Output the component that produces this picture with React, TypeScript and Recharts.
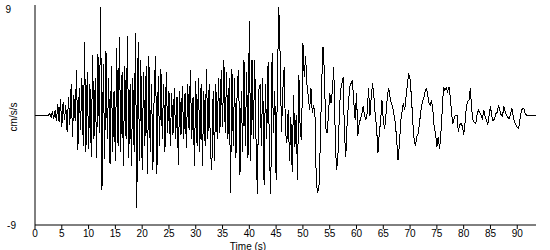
import { Line, LineChart, XAxis, YAxis } from "recharts";

// sample interval of the digitised record (seconds)
const SAMPLE_STEP = 0.25;

// acceleration in cm/s/s, one row per second (4 samples each)
const acceleration: number[] = [
  0, 0, 0, 0,
  0, 0, 0, 0,
  0, 0, 0, 0.1,
  -0.2, 0.3, -0.3, 0.4,
  -0.5, 0.9, -0.6, 1.3,
  -1.0, 1.1, -0.4, 0.8,
  -1.4, 1.5, -0.8, 2.5,
  -1.8, 1.6, -0.5, 3.7,
  -2.9, 2.2, -1.2, 3.0,
  -2.5, 6.0, -3.0, 3.5,
  -2.8, 2.5, -3.4, 4.9,
  -2.0, 3.0, -3.5, 5.0,
  -1.5, 8.8, -6.1, 4.2,
  -3.6, 5.2, -2.0, 3.0,
  -4.0, 4.0, -3.0, 2.0,
  -3.8, 5.5, -2.5, 6.4,
  -3.0, 3.5, -4.2, 4.0,
  -2.0, 6.5, -3.5, 2.5,
  -4.2, 3.0, -3.0, 6.7,
  -7.6, 6.0, -3.8, 4.5,
  -4.5, 3.5, -2.5, 4.0,
  -4.8, 4.8, -3.0, 2.5,
  -4.5, 2.0, 4.8, -4.8,
  3.2, -2.5, 3.8, -2.0,
  2.5, -3.0, 3.5, -1.5,
  2.0, -2.5, 1.8, -1.6,
  2.2, -2.0, 1.5, -4.1,
  2.0, -1.6, 2.4, -2.0,
  1.8, -2.7, 2.5, -1.2,
  3.7, -2.0, 1.5, -4.2,
  2.8, -2.5, 3.0, -3.0,
  2.5, -4.2, 2.0, -2.5,
  3.8, -2.0, 2.5, -3.0,
  -4.5, 2.0, -3.8, 2.5,
  -2.0, 3.0, -1.5, 3.7,
  -1.0, 4.5, -1.5, 3.5,
  -2.0, 3.0, -6.4, 3.8,
  -2.5, 3.0, -3.5, 2.5,
  3.7, -4.9, 2.0, -3.0,
  4.5, -2.5, 3.5, -3.5,
  7.7, -3.8, 4.5, -2.0,
  4.5, -2.0, -6.5, 2.0,
  2.5, -2.5, 3.0, -5.7,
  2.5, -2.0, 4.3, -3.0,
  -6.5, 5.1, -1.5, 2.0,
  -5.3, 3.0, 8.8, 4.8,
  -1.4, 2.0, 3.9, -1.4,
  -2.3, 0.4, -3.8, -0.2,
  -4.7, 1.6, -2.6, 0.0,
  -5.3, 3.3, -1.5, -2.0,
  5.9, 3.1, 4.8, 2.5,
  1.5, 0.4, 2.2, 0.2,
  0.8, 0.0, -5.5, -6.4,
  -5.8, -2.3, 2.6, 5.6,
  3.6, -1.0, -1.5, -0.1,
  1.8, 1.0, 2.0, 3.9,
  -1.0, -4.5, -3.7, -0.7,
  2.0, 2.5, 3.1, -1.5,
  -3.4, -0.7, 1.0, 2.3,
  2.6, 2.8, 1.0, -0.4,
  1.8, -1.7, -0.7, -0.3,
  0.1, 0.7, 0.0, -0.4,
  0.2, 2.2, -0.1, 1.5,
  2.6, 1.5, 0.0, -1.0,
  -3.1, -1.5, -0.5, 1.2,
  -0.4, -1.1, 0.0, 1.5,
  2.2, 1.5, 0.95, 0.7,
  0.0, -0.7, -2.0, -3.7,
  -2.5, -0.5, 0.3, 0.95,
  0.4, 1.5, 2.5, 3.4,
  2.9, 1.5, -0.5, -2.0,
  -2.5, -1.8, -1.5, -0.7,
  0.3, 1.0, 1.3, 1.8,
  2.2, 1.8, 1.0, 0.8,
  1.2, 0.4, -1.0, -1.5,
  -2.6, -1.8, -2.8, -1.5,
  0.4, 2.3, 2.0, 2.2,
  1.9, 2.3, 1.5, 0.1,
  -0.7, -0.2, 0.0, 0.0,
  -1.4, -0.8, -0.7, -0.9,
  -1.6, -0.7, 0.7, 1.1,
  1.2, 2.2, 0.4, -0.4,
  -0.6, -0.7, 0.0, 0.4,
  0.2, 0.0, -0.3, 0.4,
  -0.1, -0.4, -0.8, 0.0,
  0.7, -0.1, -0.5, -0.3,
  0.1, 0.2, 0.8, 0.4,
  0.0, -0.1, 0.7, 0.3,
  0.0, -0.2, -0.3, 0.1,
  0.55, -0.1, -0.6, -0.8,
  -1.0, -1.1, -0.4, 0.3,
  0.55, 0.5, 0.1, 0.0,
  0, 0, 0, 0,
  0, 0, 0,
];

const timeTicks = [0, 5, 10, 15, 20, 25, 30, 35, 40, 45, 50, 55, 60, 65, 70, 75, 80, 85, 90];
const accelTicks = [-9, 9];

const data = acceleration.map((a, i) => ({ t: i * SAMPLE_STEP, a }));

const font = '"Liberation Sans", Arial, sans-serif';

const YTick = ({ y, payload }: any) => (
  <text
    x={payload.value > 0 ? 11 : 16}
    y={y}
    textAnchor="end"
    dominantBaseline="central"
    fontFamily={font}
    fontSize={10}
    fill="#000"
  >
    {payload.value}
  </text>
);

const YLabel = () => (
  <text
    x={13}
    y={117}
    transform="rotate(-90 13 117)"
    textAnchor="middle"
    dominantBaseline="central"
    fontFamily={font}
    fontSize={10}
    fill="#000"
  >
    cm/s/s
  </text>
);

const XLabel = () => (
  <text
    x={248}
    y={246}
    textAnchor="middle"
    dominantBaseline="central"
    fontFamily={font}
    fontSize={10}
    fill="#000"
  >
    Time (s)
  </text>
);

export default function App() {
  return (
    <div style={{ position: "absolute", left: 0, top: 0, background: "#fff" }}>
      <LineChart width={550} height={250} data={data} margin={{ top: 5, right: 14, bottom: 0, left: 0 }}>
        <XAxis
          dataKey="t"
          type="number"
          domain={[0, 93.5]}
          ticks={timeTicks}
          interval={0}
          height={25}
          tickSize={4}
          tickMargin={1}
          axisLine={{ stroke: "#000" }}
          tickLine={{ stroke: "#000" }}
          tick={{ fill: "#000", fontFamily: font, fontSize: 10 }}
          label={<XLabel />}
        />
        <YAxis
          type="number"
          domain={[-9, 9]}
          ticks={accelTicks}
          width={35}
          axisLine={{ stroke: "#000" }}
          tickLine={false}
          tick={<YTick />}
          label={<YLabel />}
        />
        <Line
          type="linear"
          dataKey="a"
          stroke="#000"
          strokeWidth={1}
          dot={false}
          activeDot={false}
          isAnimationActive={false}
          style={{ shapeRendering: "crispEdges" }}
        />
      </LineChart>
    </div>
  );
}
